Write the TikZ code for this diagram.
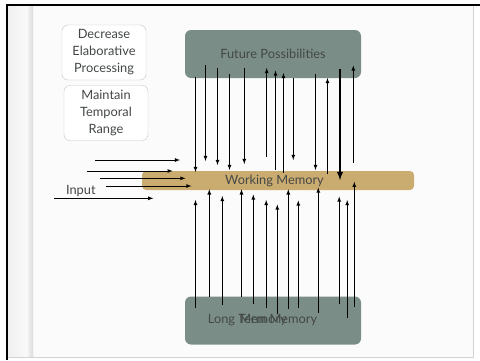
\documentclass[tikz,border=0pt]{standalone}
\usepackage{fontspec}
\setmainfont{Lato}
\definecolor{slate}{RGB}{122,142,135}
\definecolor{sand}{RGB}{203,172,112}
\definecolor{ink}{RGB}{68,72,71}
\definecolor{edge}{RGB}{195,195,195}

\begin{document}
\begin{tikzpicture}[x=1pt,y=-1pt,
      font=\fontsize{12.8}{17}\selectfont,
      slatebox/.style={rectangle, rounded corners=6pt, fill=slate,
        text=ink, minimum width=176pt, minimum height=48pt},
      sandbar/.style={rectangle, rounded corners=4pt, fill=sand,
        text=ink, minimum width=272pt, minimum height=19pt},
      notebox/.style={rectangle, rounded corners=6pt, draw=edge, fill=white,
        text=ink, align=center, minimum width=84pt, minimum height=55pt, inner sep=0pt},
      arr/.style={->, >=latex, line width=0.8pt}]

    \useasboundingbox (0,0) rectangle (480,360);

    % slide
    \fill[white] (0,0) rectangle (480,360);
    \fill[gray!3] (8,6) rectangle (473,357);
    \shade[left color=gray!12, right color=gray!4] (8,6) rectangle (28,357);
    \shade[left color=gray!12, right color=gray!28] (28,6) rectangle (33,357);
    \draw[gray!35] (473,6) -- (473,357) -- (8,357);
    \draw[line width=2pt] (7,360) -- (7,5) -- (480,5);

    \node[notebox] (dec)  at (104,52.5) {Decrease\\Elaborative\\Processing};
    \node[notebox] (keep) at (106,113)  {Maintain\\Temporal\\Range};

    \node[slatebox] (fp)  at (273,54)    {Future Possibilities};
    \node[sandbar]  (wm)  at (278,180.5) {\hspace*{-7pt}Working Memory};
    \node[slatebox] (ltm) at (273,320.5) {};
    \node[text=ink] (ltm1) at (262.5,320.5) {Long Term Memory};
    \node[text=ink] (ltm2) at (263,320.5)   {Memory};

    % future possibilities -> working memory
    \foreach \x/\a/\b [count=\i] in {195.5/77/172, 205.5/65/161, 217.5/68/165,
        229.5/74/170, 244.3/68/164, 293.3/78/160, 315.5/74/170}{
      \coordinate (fd\i) at (\x,\a);
      \coordinate (wd\i) at (\x,\b);
      \draw[arr] (fd\i) -- (wd\i);
    }
    \coordinate (fd8) at (340,69);
    \coordinate (wd8) at (340,180);
    \draw[arr, line width=1.8pt] (fd8) -- (wd8);

    % working memory -> future possibilities
    \foreach \x/\a/\b [count=\i] in {266.7/157/68, 275.5/170/70.5, 283.5/173/73,
        327.5/174/78, 353.3/163/65.5}{
      \coordinate (wu\i) at (\x,\a);
      \coordinate (fu\i) at (\x,\b);
      \draw[arr] (wu\i) -- (fu\i);
    }

    % long term memory -> working memory
    \foreach \x/\a/\b [count=\i] in {195.5/308/200, 209.3/297/189.3, 222.3/305/196,
        241.5/297/189.3, 253.3/304/194.5, 266.2/308/200, 277.3/314/204.5,
        288.3/308.5/189.3, 298.3/308/200.5, 318.3/312.5/187.5, 339.2/304/196.5,
        347.2/317.5/200, 354.3/306.7/181.7}{
      \coordinate (lu\i) at (\x,\a);
      \coordinate (mu\i) at (\x,\b);
      \draw[arr] (lu\i) -- (mu\i);
    }

    % inputs
    \foreach \x/\a/\y [count=\i] in {95/180/160, 87.3/172.7/171,
        100/185.5/178.3, 106/191.5/186}{
      \coordinate (is\i) at (\x,\y);
      \coordinate (it\i) at (\a,\y);
      \draw[arr] (is\i) -- (it\i);
    }
    \coordinate (is5) at (54,198.3);
    \coordinate (it5) at (153.3,198.3);
    \draw[arr] (is5) -- node[pos=0.27, above=-2.5pt, text=ink] (inp) {Input} (it5);

  \end{tikzpicture}
\end{document}
